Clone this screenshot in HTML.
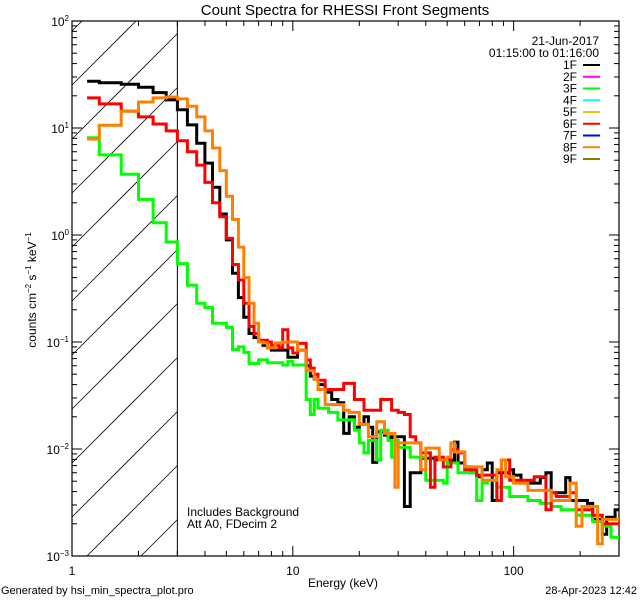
<!DOCTYPE html>
<html><head><meta charset="utf-8"><style>
html,body{margin:0;padding:0;background:#fff;width:640px;height:600px;overflow:hidden;}
svg{display:block;font-family:"Liberation Sans",sans-serif;}
</style></head><body>
<svg id="chart" width="640" height="600" viewBox="0 0 640 600" xmlns="http://www.w3.org/2000/svg">
<rect x="0" y="0" width="640" height="600" fill="#fff"/>
<text x="345" y="15" font-size="15" text-anchor="middle">Count Spectra for RHESSI Front Segments</text>
<g id="hatch"></g>
<g id="axes"></g>
<g id="series"></g>
<g id="legend"></g>
<text x="187" y="516" font-size="12">Includes Background</text>
<text x="187" y="528" font-size="12">Att A0, FDecim 2</text>
<text x="343" y="587" font-size="12" text-anchor="middle">Energy (keV)</text>
<text transform="translate(36,290) rotate(-90)" font-size="12" text-anchor="middle">counts cm<tspan font-size="8" dy="-5">−2</tspan><tspan dy="5"> s</tspan><tspan font-size="8" dy="-5">−1</tspan><tspan dy="5"> keV</tspan><tspan font-size="8" dy="-5">−1</tspan></text>
<text x="1" y="594" font-size="11">Generated by hsi_min_spectra_plot.pro</text>
<text x="637" y="594" font-size="11" text-anchor="end">28-Apr-2023 12:42</text>
</svg>
<script>
const edges = [1.17,1.33,1.67,2.0,2.33,2.67,3.0,3.33,3.67,4.0,4.33,4.67,5.0,5.33,5.67,6.0,6.33,6.67,7.0,7.33,7.67,8.0,8.33,8.67,9.0,
 9.5,10,10.5,11,11.5,12,12.5,13,13.5,14,14.5,15,
 16,17,18,19,20,21,22,23,24,25,26,27,28,29,30,
 32,34,36,38,40,42,44,46,48,50,52,54,56,58,60,
 64,68,72,76,80,84,88,92,96,100,
 108,116,124,132,140,148,156,164,172,180,
 192,204,216,228,240,252,264,276,288,300];
const seg1F = [27.3,26.5,25.6,24.0,21.4,18.3,14.8,10.7,7.2,4.7,2.8,1.57,0.9,0.44,0.26,0.17,0.12,0.11,0.1,0.093,0.088,0.084,0.084,0.084,
 0.084,0.072,0.072,0.084,0.084,0.06,0.048,0.045,0.04,0.04,0.034,0.034,
 0.029,0.027,0.014,0.02,0.016,0.017,0.02,0.016,0.0075,0.0145,0.0145,0.0135,0.0127,0.013,0.013,
 0.013,0.0029,0.006,0.006,0.0082,0.0082,0.0082,0.0079,0.0079,0.0079,0.0079,0.0079,0.0116,0.0074,0.0074,
 0.0068,0.006,0.0055,0.0064,0.0074,0.0033,0.006,0.006,0.006,0.0064,
 0.0057,0.0048,0.0048,0.0048,0.0054,0.006,0.0039,0.0039,0.0039,0.0054,
 0.0033,0.0033,0.0033,0.0031,0.0022,0.0022,0.0016,0.0023,0.0023,0.0027];
const seg3F = [8.1,5.6,3.7,2.15,1.3,0.86,0.54,0.34,0.23,0.21,0.15,0.15,0.137,0.085,0.09,0.08,0.063,0.063,0.068,0.068,0.064,0.064,0.064,0.064,
 0.061,0.066,0.061,0.061,0.061,0.029,0.021,0.029,0.024,0.024,0.024,0.022,
 0.022,0.0187,0.0187,0.0187,0.015,0.0114,0.0092,0.012,0.012,0.0079,0.015,0.015,0.012,0.0084,0.012,
 0.0104,0.0104,0.0084,0.0084,0.0084,0.0051,0.0051,0.0051,0.0051,0.0048,0.0074,0.0074,0.0074,0.006,0.006,
 0.006,0.006,0.0033,0.0048,0.0051,0.0051,0.0044,0.0044,0.0044,0.0036,
 0.0036,0.0036,0.0033,0.0033,0.0031,0.0031,0.0029,0.0029,0.0027,0.0027,
 0.0027,0.0024,0.0024,0.0024,0.0021,0.0021,0.0019,0.0019,0.0015,0.0015];
const seg6F = [19.1,16.8,14.4,12.7,10.9,9.4,7.6,6.0,4.5,3.1,2.0,1.48,0.93,0.53,0.38,0.23,0.14,0.12,0.104,0.104,0.1,0.093,0.093,0.088,
 0.13,0.088,0.079,0.097,0.097,0.068,0.057,0.05,0.044,0.044,0.036,0.036,
 0.036,0.036,0.041,0.041,0.029,0.029,0.023,0.023,0.023,0.023,0.029,0.029,0.029,0.023,0.023,
 0.022,0.021,0.013,0.0114,0.0092,0.0092,0.0044,0.0084,0.0084,0.0068,0.0068,0.0098,0.0098,0.0092,0.0092,
 0.0064,0.0064,0.0057,0.0057,0.0057,0.0057,0.0033,0.0079,0.0079,0.0051,
 0.0051,0.0051,0.0051,0.0055,0.0055,0.0027,0.0039,0.0036,0.0036,0.0036,
 0.0039,0.0027,0.0027,0.0027,0.0024,0.0024,0.002,0.002,0.002,0.002];
const seg8F = [7.9,10.6,14.4,17.5,19.1,19.5,18.7,16.0,12.7,9.4,6.5,4.0,2.3,1.4,0.77,0.4,0.23,0.15,0.1,0.098,0.088,0.088,0.098,0.098,
 0.1,0.1,0.1,0.084,0.084,0.054,0.054,0.045,0.036,0.036,0.026,0.026,
 0.026,0.026,0.023,0.022,0.022,0.017,0.017,0.013,0.013,0.018,0.018,0.014,0.014,0.014,0.0044,
 0.0114,0.0114,0.0114,0.0114,0.0064,0.0102,0.0102,0.0102,0.0079,0.0079,0.0084,0.0114,0.0094,0.0094,0.0094,
 0.0068,0.0068,0.0068,0.0051,0.0051,0.0051,0.0064,0.0079,0.0055,0.0055,
 0.0048,0.0048,0.0041,0.0041,0.0041,0.0041,0.0033,0.0033,0.0033,0.0033,
 0.0048,0.0019,0.0029,0.0029,0.0029,0.0013,0.0022,0.0022,0.0022,0.0022];
const legendLabels = ["1F","2F","3F","4F","5F","6F","7F","8F","9F"];
const legendColors = ["#000000","#ff00ff","#00ff00","#00ffff","#d2d200","#ff0000","#0000ff","#ff8000","#808000"];
const xTickMajor = [1,10,100];
const yTickExp = [2,1,0,-1,-2,-3];

const NS="http://www.w3.org/2000/svg";
const L=72,R=619,T=21,B=556;
const XMIN=1,XMAX=300,YMIN=1e-3,YMAX=100;
function xs(e){return L+(Math.log10(e)-Math.log10(XMIN))/(Math.log10(XMAX)-Math.log10(XMIN))*(R-L);}
function ys(v){return T+(Math.log10(YMAX)-Math.log10(v))/(Math.log10(YMAX)-Math.log10(YMIN))*(B-T);}
function mk(tag,attrs,parent){const el=document.createElementNS(NS,tag);for(const k in attrs)el.setAttribute(k,attrs[k]);parent.appendChild(el);return el;}

const hatch=document.getElementById('hatch');
const xh=xs(3);
const defs=mk('defs',{},hatch);
for(let c=103;c<xh+B;c+=54){
  const xa=Math.max(L,c-B), xb=Math.min(xh,c-T);
  if(xb<=xa) continue;
  const ln=mk('line',{x1:xa,y1:c-xa,x2:xb,y2:c-xb,stroke:'#000','stroke-width':0.8},hatch);
  
  
}
const vl=mk('line',{x1:xh,y1:T,x2:xh,y2:B,stroke:'#000','stroke-width':1},hatch);



const ax=document.getElementById('axes');
const frame=mk('rect',{x:L,y:T,width:R-L,height:B-T,fill:'none',stroke:'#000','stroke-width':1.2},ax);


for(let d=1;d<=100;d*=10){
  for(let m=1;m<10;m++){
    const e=d*m; if(e>XMAX) break;
    const x=xs(e); const len=(m===1)?10:5;
    mk('line',{x1:x,y1:B,x2:x,y2:B-len,stroke:'#000'},ax);
    mk('line',{x1:x,y1:T,x2:x,y2:T+len,stroke:'#000'},ax);
  }
}
xTickMajor.forEach(e=>{
  const t=mk('text',{x:xs(e),y:575,'font-size':12,'text-anchor':'middle'},ax);
  t.textContent=String(e);
  
  
});
for(let p=-3;p<2;p++){
  for(let m=1;m<10;m++){
    const v=Math.pow(10,p)*m; const y=ys(v); const len=(m===1)?10:5;
    mk('line',{x1:L,y1:y,x2:L+len,y2:y,stroke:'#000'},ax);
    mk('line',{x1:R,y1:y,x2:R-len,y2:y,stroke:'#000'},ax);
  }
}
yTickExp.forEach(p=>{
  const t=mk('text',{x:L-3,y:ys(Math.pow(10,p))+5,'font-size':12,'text-anchor':'end'},ax);
  
  
  const a=mk('tspan',{},t); a.textContent='10';
  const b=mk('tspan',{'font-size':8,dy:-5},t); b.textContent=String(p).replace('-','−');
});

const sg=document.getElementById('series');
const cp2=mk('clipPath',{id:'pclip'},defs);
mk('rect',{x:L,y:T,width:R-L,height:B-T},cp2);
function stepPath(vals){
  let pts=[];
  for(let i=0;i<vals.length;i++){
    const x0=xs(edges[i]),x1=xs(edges[i+1]),y=ys(vals[i]);
    pts.push(x0.toFixed(1)+','+y.toFixed(1));
    pts.push(x1.toFixed(1)+','+y.toFixed(1));
  }
  return pts.join(' ');
}
const plotSeries=[[seg1F,'#000000','series-1f'],[seg3F,'#00ff00','series-3f'],[seg6F,'#ff0000','series-6f'],[seg8F,'#ff8000','series-8f']];
plotSeries.forEach(s=>{
  const pl=mk('polyline',{points:stepPath(s[0]),fill:'none',stroke:s[1],'stroke-width':3,'clip-path':'url(#pclip)','stroke-linejoin':'miter'},sg);
  
  
});

const lg=document.getElementById('legend');
const d1=mk('text',{x:599,y:45,'font-size':12,'text-anchor':'end'},lg);
d1.textContent='21-Jun-2017';


const d2=mk('text',{x:599,y:57,'font-size':12,'text-anchor':'end'},lg);
d2.textContent='01:15:00 to 01:16:00';


legendLabels.forEach((lab,i)=>{
  const y=65+i*11.75;
  const t=mk('text',{x:577,y:y+4,'font-size':12,'text-anchor':'end'},lg);
  t.textContent=lab;
  
  
  const l=mk('line',{x1:583,y1:y,x2:600,y2:y,stroke:legendColors[i],'stroke-width':2},lg);
  
  
});
</script>
</body></html>
